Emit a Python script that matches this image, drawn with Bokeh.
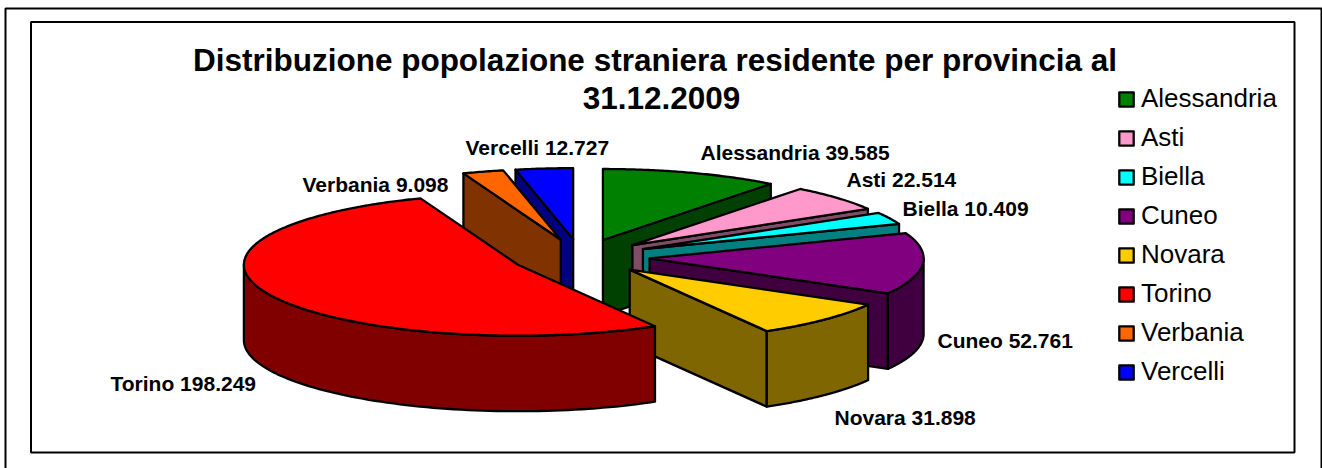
import math
from bokeh.plotting import figure
from bokeh.models import Range1d, Legend, LegendItem
from bokeh.core.properties import value
from bokeh.embed import file_html
from bokeh.resources import INLINE

names = ["Alessandria", "Asti", "Biella", "Cuneo", "Novara", "Torino", "Verbania", "Vercelli"]
values = [39585, 22514, 10409, 52761, 31898, 198249, 9098, 12727]
top_colors = ["#008000", "#FF99CC", "#00FFFF", "#800080", "#FFCC00", "#FF0000", "#FF6600", "#0000FF"]
side_colors = ["#004000", "#804C66", "#008080", "#400040", "#806600", "#800000", "#803300", "#000080"]
title_lines = ["Distribuzione popolazione straniera residente per provincia al", "31.12.2009"]

FONT = "Liberation Sans"
# pie projection, in page pixels
CX, CY, RX, RY, DEPTH, EXPLODE = 580.0, 256.5, 274.0, 71.0, 75.5, 69.3
draw_order = [0, 7, 6, 1, 2, 3, 4, 5]
label_pos = [(700, 152), (846, 179), (902, 208), (937, 340), (834, 417), (110, 383), (302, 184), (465, 147)]

p = figure(width=1322, height=468, x_range=Range1d(0, 1322), y_range=Range1d(468, 0),
           output_backend="svg", toolbar_location=None, min_border=0,
           margin=(0, 0, 0, 0), outline_line_color=None)
p.xaxis.visible = False
p.yaxis.visible = False
p.grid.visible = False

# frames: the outer one runs off the bottom of the picture
p.quad(left=[5], right=[1321], top=[8], bottom=[480], fill_color=None, line_color="#000000", line_width=2)
p.quad(left=[30.5], right=[1294], top=[21.5], bottom=[452], fill_color=None, line_color="#000000", line_width=2)


def pt(c, a, dz=0.0):
    r = math.radians(a)
    return c[0] + RX * math.sin(r), c[1] - RY * math.cos(r) + dz


total = sum(values)
slices = []
start = 0.0
for v in values:
    end = start + 360.0 * v / total
    mid = math.radians((start + end) / 2)
    slices.append((start, end, (CX + EXPLODE * math.sin(mid), CY - EXPLODE * RY / RX * math.cos(mid))))
    start = end

renderers = {}
STYLE = dict(line_color="#000000", line_width=2.3, line_join="round")
for i in draw_order:
    a0, a1, c = slices[i]
    walls = []
    # cut faces seen from the viewer's side
    if math.cos(math.radians(a0 - 90)) < -1e-6:
        walls.append([c, pt(c, a0), pt(c, a0, DEPTH), (c[0], c[1] + DEPTH)])
    if math.cos(math.radians(a1 + 90)) < -1e-6:
        walls.append([c, pt(c, a1), pt(c, a1, DEPTH), (c[0], c[1] + DEPTH)])
    # rim, front half only
    lo, hi = max(a0, 90.0), min(a1, 270.0)
    if hi > lo:
        n = 80
        angs = [lo + (hi - lo) * k / n for k in range(n + 1)]
        walls.append([pt(c, a) for a in angs] + [pt(c, a, DEPTH) for a in reversed(angs)])
    for w in walls:
        p.patch([q[0] for q in w], [q[1] for q in w], fill_color=side_colors[i], **STYLE)
    n = max(8, int((a1 - a0) * 2))
    pts = [c] + [pt(c, a0 + (a1 - a0) * k / n) for k in range(n + 1)]
    renderers[i] = p.patch([q[0] for q in pts], [q[1] for q in pts], fill_color=top_colors[i], **STYLE)

# title
for line, x, y in zip(title_lines, [654.5, 661], [59, 97]):
    p.text([x], [y], text=[line], text_font=value(FONT), text_font_style="bold", text_font_size="31.5px",
           text_align="center", text_baseline="middle", text_color="#000000")

# data labels
for i, (nm, v) in enumerate(zip(names, values)):
    s = f"{nm} {v // 1000}.{v % 1000:03d}"
    p.text([label_pos[i][0]], [label_pos[i][1]], text=[s], text_font=value(FONT), text_font_style="bold",
           text_font_size="21px", text_align="left", text_baseline="middle", text_color="#000000")

legend = Legend(items=[LegendItem(label=nm, renderers=[renderers[i]]) for i, nm in enumerate(names)],
                location=(1117, 81), orientation="vertical", background_fill_alpha=0, border_line_color=None,
                label_text_font=FONT, label_text_font_size="26px", label_text_color="#000000",
                glyph_width=18, glyph_height=18, spacing=8, padding=0, margin=0, label_standoff=6,
                label_height=28, click_policy="none")
p.add_layout(legend, "center")

open("out.html", "w").write(file_html(p, INLINE))
